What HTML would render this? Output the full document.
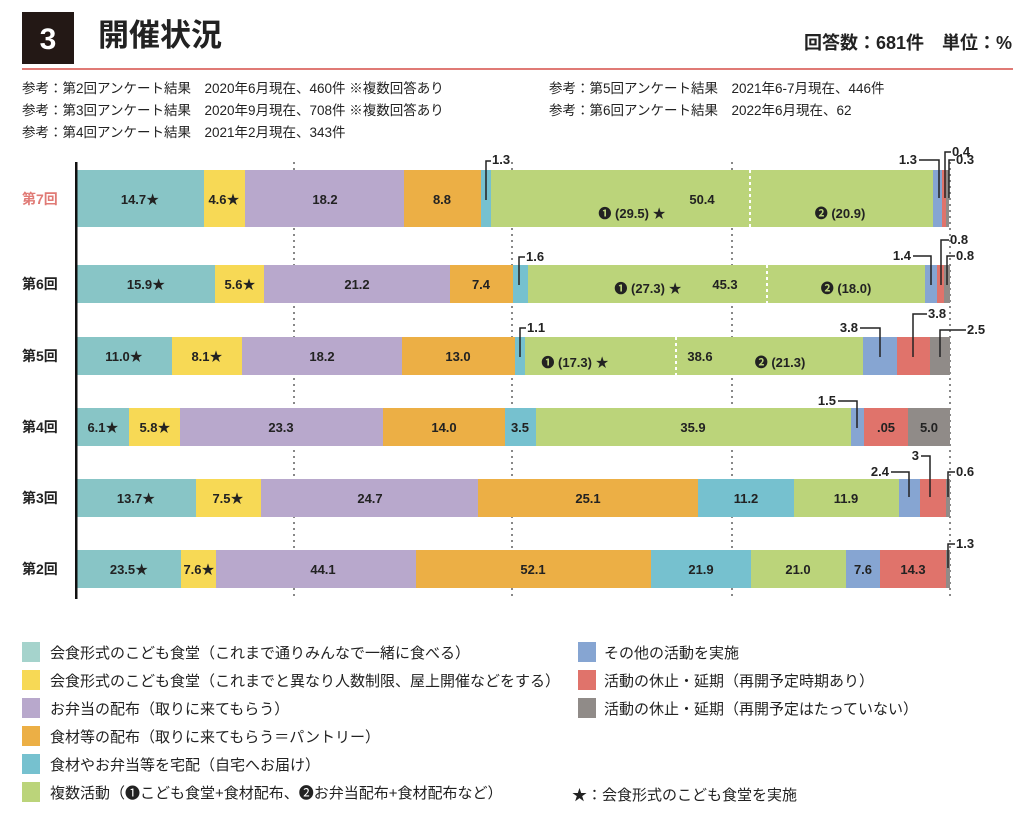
<!DOCTYPE html>
<html><head><meta charset="utf-8"><style>
body{margin:0;background:#fff;}
svg{display:block;font-family:"Liberation Sans","Noto Sans CJK JP",sans-serif;}
.n{font-size:13px;font-weight:bold;fill:#222;}
.row{font-size:14px;font-weight:bold;fill:#222;}
.lg{font-size:15px;fill:#222;}
.ref{font-size:13.5px;fill:#222;}
</style></head><body>
<svg width="1024" height="819" viewBox="0 0 1024 819">
<rect x="22" y="12" width="52" height="52" fill="#231815"/>
<text x="48" y="49" text-anchor="middle" font-size="30" font-weight="bold" fill="#fff">3</text>
<text x="98" y="46" font-size="31" font-weight="bold" fill="#222">開催状況</text>
<text x="1012" y="49" text-anchor="end" font-size="18" font-weight="bold" fill="#222">回答数：681件　単位：%</text>
<rect x="22" y="68" width="991" height="2" fill="#e07a75"/>
<text class="ref" x="22" y="93">参考：第2回アンケート結果　2020年6月現在、460件 ※複数回答あり</text>
<text class="ref" x="22" y="115">参考：第3回アンケート結果　2020年9月現在、708件 ※複数回答あり</text>
<text class="ref" x="22" y="137">参考：第4回アンケート結果　2021年2月現在、343件</text>
<text class="ref" x="549" y="93">参考：第5回アンケート結果　2021年6-7月現在、446件</text>
<text class="ref" x="549" y="115">参考：第6回アンケート結果　2022年6月現在、62</text>

<g stroke="#888" stroke-width="2" stroke-dasharray="2,4">
<line x1="294" y1="162" x2="294" y2="600"/><line x1="512" y1="162" x2="512" y2="600"/>
<line x1="732" y1="162" x2="732" y2="600"/><line x1="950" y1="162" x2="950" y2="600"/>
</g>

<g>
<rect x="77" y="170" width="127" height="57" fill="#88c5c6"/>
<rect x="204" y="170" width="41" height="57" fill="#f7d955"/>
<rect x="245" y="170" width="159" height="57" fill="#b8a8cc"/>
<rect x="404" y="170" width="77" height="57" fill="#ecaf45"/>
<rect x="481" y="170" width="10" height="57" fill="#76c1cf"/>
<rect x="491" y="170" width="442" height="57" fill="#bbd47a"/>
<rect x="933" y="170" width="9" height="57" fill="#86a5d2"/>
<rect x="942" y="170" width="4" height="57" fill="#e0736b"/>
<rect x="946" y="170" width="3" height="57" fill="#908b88"/>
<line x1="750" y1="170" x2="750" y2="227" stroke="#fff" stroke-width="2" stroke-dasharray="3,3"/>
<text class="n" x="140" y="204" text-anchor="middle">14.7★</text>
<text class="n" x="224" y="204" text-anchor="middle">4.6★</text>
<text class="n" x="325" y="204" text-anchor="middle">18.2</text>
<text class="n" x="442" y="204" text-anchor="middle">8.8</text>
<text class="n" x="702" y="204" text-anchor="middle">50.4</text>
<text class="n" x="632" y="218" text-anchor="middle">❶ (29.5) ★</text>
<text class="n" x="840" y="218" text-anchor="middle">❷ (20.9)</text>
<text class="row" x="22" y="204" style="fill:#e07a75">第7回</text>
</g>
<g>
<rect x="77" y="265" width="138" height="38" fill="#88c5c6"/>
<rect x="215" y="265" width="49" height="38" fill="#f7d955"/>
<rect x="264" y="265" width="186" height="38" fill="#b8a8cc"/>
<rect x="450" y="265" width="63" height="38" fill="#ecaf45"/>
<rect x="513" y="265" width="15" height="38" fill="#76c1cf"/>
<rect x="528" y="265" width="397" height="38" fill="#bbd47a"/>
<rect x="925" y="265" width="12" height="38" fill="#86a5d2"/>
<rect x="937" y="265" width="7" height="38" fill="#e0736b"/>
<rect x="944" y="265" width="6" height="38" fill="#908b88"/>
<line x1="767" y1="265" x2="767" y2="303" stroke="#fff" stroke-width="2" stroke-dasharray="3,3"/>
<text class="n" x="146" y="289" text-anchor="middle">15.9★</text>
<text class="n" x="240" y="289" text-anchor="middle">5.6★</text>
<text class="n" x="357" y="289" text-anchor="middle">21.2</text>
<text class="n" x="481" y="289" text-anchor="middle">7.4</text>
<text class="n" x="648" y="293" text-anchor="middle">❶ (27.3) ★</text>
<text class="n" x="725" y="289" text-anchor="middle">45.3</text>
<text class="n" x="846" y="293" text-anchor="middle">❷ (18.0)</text>
<text class="row" x="22" y="289">第6回</text>
</g>
<g>
<rect x="77" y="337" width="95" height="38" fill="#88c5c6"/>
<rect x="172" y="337" width="70" height="38" fill="#f7d955"/>
<rect x="242" y="337" width="160" height="38" fill="#b8a8cc"/>
<rect x="402" y="337" width="113" height="38" fill="#ecaf45"/>
<rect x="515" y="337" width="10" height="38" fill="#76c1cf"/>
<rect x="525" y="337" width="338" height="38" fill="#bbd47a"/>
<rect x="863" y="337" width="34" height="38" fill="#86a5d2"/>
<rect x="897" y="337" width="33" height="38" fill="#e0736b"/>
<rect x="930" y="337" width="20" height="38" fill="#908b88"/>
<line x1="676" y1="337" x2="676" y2="375" stroke="#fff" stroke-width="2" stroke-dasharray="3,3"/>
<text class="n" x="124" y="361" text-anchor="middle">11.0★</text>
<text class="n" x="207" y="361" text-anchor="middle">8.1★</text>
<text class="n" x="322" y="361" text-anchor="middle">18.2</text>
<text class="n" x="458" y="361" text-anchor="middle">13.0</text>
<text class="n" x="575" y="367" text-anchor="middle">❶ (17.3) ★</text>
<text class="n" x="700" y="361" text-anchor="middle">38.6</text>
<text class="n" x="780" y="367" text-anchor="middle">❷ (21.3)</text>
<text class="row" x="22" y="361">第5回</text>
</g>
<g>
<rect x="77" y="408" width="52" height="38" fill="#88c5c6"/>
<rect x="129" y="408" width="51" height="38" fill="#f7d955"/>
<rect x="180" y="408" width="203" height="38" fill="#b8a8cc"/>
<rect x="383" y="408" width="122" height="38" fill="#ecaf45"/>
<rect x="505" y="408" width="31" height="38" fill="#76c1cf"/>
<rect x="536" y="408" width="315" height="38" fill="#bbd47a"/>
<rect x="851" y="408" width="13" height="38" fill="#86a5d2"/>
<rect x="864" y="408" width="44" height="38" fill="#e0736b"/>
<rect x="908" y="408" width="42" height="38" fill="#908b88"/>
<text class="n" x="103" y="432" text-anchor="middle">6.1★</text>
<text class="n" x="155" y="432" text-anchor="middle">5.8★</text>
<text class="n" x="281" y="432" text-anchor="middle">23.3</text>
<text class="n" x="444" y="432" text-anchor="middle">14.0</text>
<text class="n" x="520" y="432" text-anchor="middle">3.5</text>
<text class="n" x="693" y="432" text-anchor="middle">35.9</text>
<text class="n" x="886" y="432" text-anchor="middle">.05</text>
<text class="n" x="929" y="432" text-anchor="middle">5.0</text>
<text class="row" x="22" y="432">第4回</text>
</g>
<g>
<rect x="77" y="479" width="119" height="38" fill="#88c5c6"/>
<rect x="196" y="479" width="65" height="38" fill="#f7d955"/>
<rect x="261" y="479" width="217" height="38" fill="#b8a8cc"/>
<rect x="478" y="479" width="220" height="38" fill="#ecaf45"/>
<rect x="698" y="479" width="96" height="38" fill="#76c1cf"/>
<rect x="794" y="479" width="105" height="38" fill="#bbd47a"/>
<rect x="899" y="479" width="21" height="38" fill="#86a5d2"/>
<rect x="920" y="479" width="26" height="38" fill="#e0736b"/>
<rect x="946" y="479" width="4" height="38" fill="#908b88"/>
<text class="n" x="136" y="503" text-anchor="middle">13.7★</text>
<text class="n" x="228" y="503" text-anchor="middle">7.5★</text>
<text class="n" x="370" y="503" text-anchor="middle">24.7</text>
<text class="n" x="588" y="503" text-anchor="middle">25.1</text>
<text class="n" x="746" y="503" text-anchor="middle">11.2</text>
<text class="n" x="846" y="503" text-anchor="middle">11.9</text>
<text class="row" x="22" y="503">第3回</text>
</g>
<g>
<rect x="77" y="550" width="104" height="38" fill="#88c5c6"/>
<rect x="181" y="550" width="35" height="38" fill="#f7d955"/>
<rect x="216" y="550" width="200" height="38" fill="#b8a8cc"/>
<rect x="416" y="550" width="235" height="38" fill="#ecaf45"/>
<rect x="651" y="550" width="100" height="38" fill="#76c1cf"/>
<rect x="751" y="550" width="95" height="38" fill="#bbd47a"/>
<rect x="846" y="550" width="34" height="38" fill="#86a5d2"/>
<rect x="880" y="550" width="66" height="38" fill="#e0736b"/>
<rect x="946" y="550" width="4" height="38" fill="#908b88"/>
<text class="n" x="129" y="574" text-anchor="middle">23.5★</text>
<text class="n" x="199" y="574" text-anchor="middle">7.6★</text>
<text class="n" x="323" y="574" text-anchor="middle">44.1</text>
<text class="n" x="533" y="574" text-anchor="middle">52.1</text>
<text class="n" x="701" y="574" text-anchor="middle">21.9</text>
<text class="n" x="798" y="574" text-anchor="middle">21.0</text>
<text class="n" x="863" y="574" text-anchor="middle">7.6</text>
<text class="n" x="913" y="574" text-anchor="middle">14.3</text>
<text class="row" x="22" y="574">第2回</text>
</g>
<rect x="75" y="162" width="2.5" height="437" fill="#111"/>

<g stroke="#222" stroke-width="1.5" fill="none">
<polyline points="486,200 486,161 491,161"/>
<polyline points="919,160 939,160 939,198"/>
<polyline points="945,198 945,152 951,152"/>
<polyline points="949,198 949,160 955,160"/>
<polyline points="519,285 519,257 525,257"/>
<polyline points="913,256 931,256 931,285"/>
<polyline points="941,285 941,240 949,240"/>
<polyline points="947,285 947,256 955,256"/>
<polyline points="520,357 520,328 526,328"/>
<polyline points="860,328 880,328 880,357"/>
<polyline points="913,357 913,314 927,314"/>
<polyline points="940,357 940,330 966,330"/>
<polyline points="838,401 857,401 857,428"/>
<polyline points="891,472 909,472 909,497"/>
<polyline points="921,456 930,456 930,497"/>
<polyline points="948,497 948,472 955,472"/>
<polyline points="948,568 948,544 955,544"/>
</g>
<text class="n" x="492" y="164">1.3</text>
<text class="n" x="917" y="164" text-anchor="end">1.3</text>
<text class="n" x="952" y="156">0.4</text>
<text class="n" x="956" y="164">0.3</text>
<text class="n" x="526" y="261">1.6</text>
<text class="n" x="911" y="260" text-anchor="end">1.4</text>
<text class="n" x="950" y="244">0.8</text>
<text class="n" x="956" y="260">0.8</text>
<text class="n" x="527" y="332">1.1</text>
<text class="n" x="858" y="332" text-anchor="end">3.8</text>
<text class="n" x="928" y="318">3.8</text>
<text class="n" x="967" y="334">2.5</text>
<text class="n" x="836" y="405" text-anchor="end">1.5</text>
<text class="n" x="889" y="476" text-anchor="end">2.4</text>
<text class="n" x="919" y="460" text-anchor="end">3</text>
<text class="n" x="956" y="476">0.6</text>
<text class="n" x="956" y="548">1.3</text>

<rect x="22" y="642" width="18" height="20" fill="#a5d3cc"/><text class="lg" x="50" y="658">会食形式のこども食堂（これまで通りみんなで一緒に食べる）</text>
<rect x="22" y="670" width="18" height="20" fill="#f7d955"/><text class="lg" x="50" y="686">会食形式のこども食堂（これまでと異なり人数制限、屋上開催などをする）</text>
<rect x="22" y="698" width="18" height="20" fill="#b8a8cc"/><text class="lg" x="50" y="714">お弁当の配布（取りに来てもらう）</text>
<rect x="22" y="726" width="18" height="20" fill="#ecaf45"/><text class="lg" x="50" y="742">食材等の配布（取りに来てもらう＝パントリー）</text>
<rect x="22" y="754" width="18" height="20" fill="#76c1cf"/><text class="lg" x="50" y="770">食材やお弁当等を宅配（自宅へお届け）</text>
<rect x="22" y="782" width="18" height="20" fill="#bbd47a"/><text class="lg" x="50" y="798">複数活動（❶こども食堂+食材配布、❷お弁当配布+食材配布など）</text>
<rect x="578" y="642" width="18" height="20" fill="#86a5d2"/><text class="lg" x="604" y="658">その他の活動を実施</text>
<rect x="578" y="670" width="18" height="20" fill="#e0736b"/><text class="lg" x="604" y="686">活動の休止・延期（再開予定時期あり）</text>
<rect x="578" y="698" width="18" height="20" fill="#908b88"/><text class="lg" x="604" y="714">活動の休止・延期（再開予定はたっていない）</text>
<text class="lg" x="572" y="800">★：会食形式のこども食堂を実施</text>
</svg>
</body></html>
